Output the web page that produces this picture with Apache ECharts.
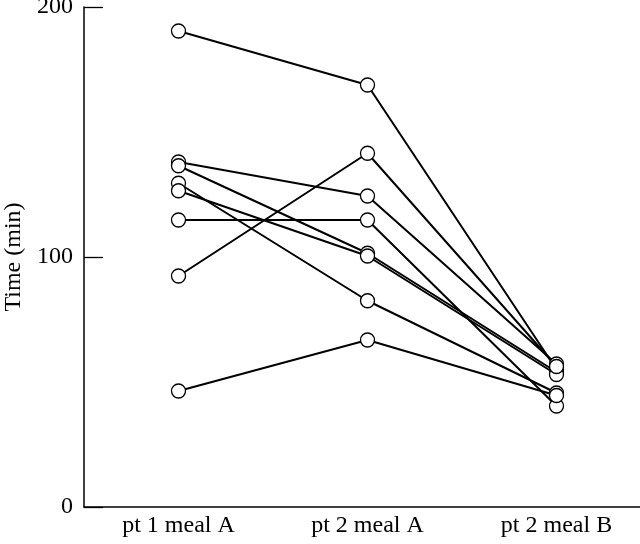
<!DOCTYPE html>
<html>
<head>
<meta charset="utf-8">
<script src="https://cdn.jsdelivr.net/npm/echarts@6/dist/echarts.min.js"></script>
<style>html,body{margin:0;padding:0;background:#fff}#c{width:640px;height:544px}</style>
</head>
<body>
<div id="c"></div>
<script>
const categories = ['pt 1 meal A', 'pt 2 meal A', 'pt 2 meal B'];
const yTicks = [0, 100, 200];
// one array per subject: [pt 1 meal A, pt 2 meal A, pt 2 meal B]
const subject1 = [190.4, 168.8, 55.0];
const subject2 = [138.0, 124.4, 57.2];
const subject3 = [136.5, 101.5, 54.0];
const subject4 = [129.5, 82.5, 45.6];
const subject5 = [126.5, 100.4, 53.0];
const subject6 = [114.8, 114.8, 40.4];
const subject7 = [92.4, 141.5, 56.2];
const subject8 = [46.4, 66.8, 44.6];
const subjects = [subject1, subject2, subject3, subject4, subject5, subject6, subject7, subject8];

const font = 'Liberation Serif';
const series = [];
subjects.forEach(function (s) {
  series.push({
    type: 'line', data: s, symbol: 'none', z: 2,
    lineStyle: { color: '#000', width: 2 }, animation: false, silent: true
  });
});
subjects.forEach(function (s) {
  series.push({
    type: 'scatter', data: s, symbol: 'circle', symbolSize: 14, z: 5,
    itemStyle: { color: '#fff', borderColor: '#000', borderWidth: 1.3, opacity: 1 },
    animation: false, silent: true
  });
});

const chart = echarts.init(document.getElementById('c'), null, { renderer: 'canvas' });
chart.setOption({
  backgroundColor: '#fff',
  animation: false,
  grid: { left: 84, top: 7, bottom: 37, right: -11, containLabel: false, outerBoundsMode: 'none' },
  xAxis: {
    type: 'category', data: categories, boundaryGap: true,
    axisLine: { lineStyle: { color: '#000', width: 1.5 } },
    axisTick: { inside: true, length: 15, alignWithLabel: true, lineStyle: { color: '#000', width: 1.3 } },
    axisLabel: { color: '#000', fontFamily: font, fontSize: 24, margin: 7 },
    splitLine: { show: false }
  },
  yAxis: {
    type: 'value', min: yTicks[0], max: yTicks[yTicks.length - 1], interval: 100,
    name: 'Time (min)', nameLocation: 'middle', nameGap: 58,
    nameTextStyle: { color: '#000', fontFamily: font, fontSize: 24 },
    axisLine: { show: true, lineStyle: { color: '#000', width: 1.5 } },
    axisTick: { show: true, inside: true, length: 19, lineStyle: { color: '#000', width: 1.3 } },
    axisLabel: { color: '#000', fontFamily: font, fontSize: 24, margin: 11 },
    splitLine: { show: false }
  },
  series: series
});
</script>
</body>
</html>
